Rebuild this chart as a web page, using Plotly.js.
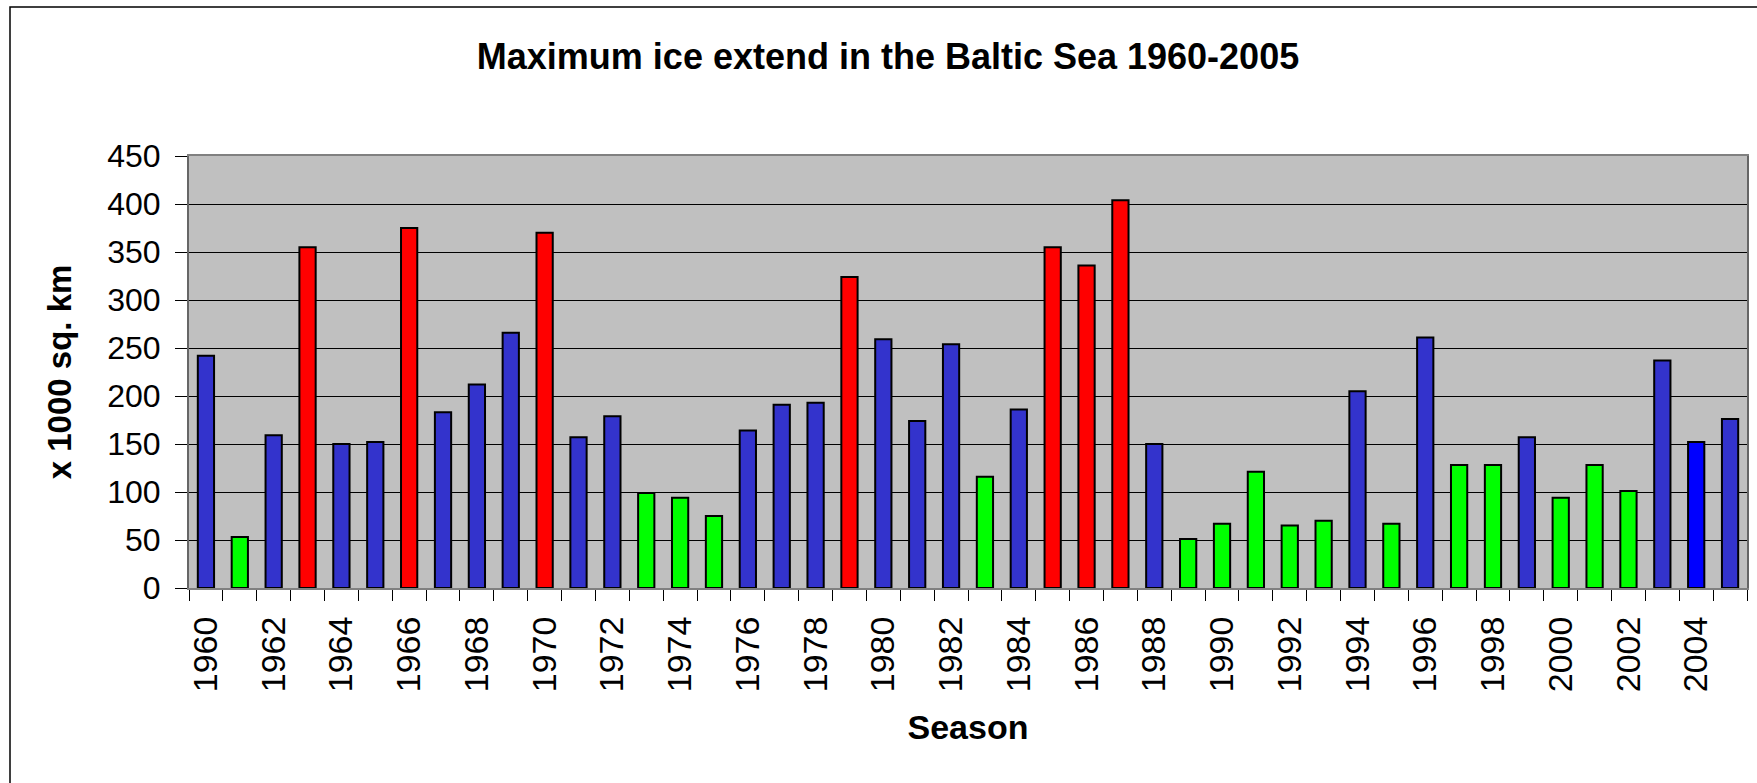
<!DOCTYPE html>
<html>
<head>
<meta charset="utf-8">
<script src="https://cdn.plot.ly/plotly-3.0.1.min.js"></script>
<style>html,body{margin:0;padding:0;background:#fff;}#chart{width:1757px;height:783px;}</style>
</head>
<body>
<div id="chart"></div>
<script>
// Season (year) of each bar
const seasons = [1960,1961,1962,1963,1964,1965,1966,1967,1968,1969,
                 1970,1971,1972,1973,1974,1975,1976,1977,1978,1979,
                 1980,1981,1982,1983,1984,1985,1986,1987,1988,1989,
                 1990,1991,1992,1993,1994,1995,1996,1997,1998,1999,
                 2000,2001,2002,2003,2004,2005];
// Maximum ice extent, x 1000 sq. km
const iceExtent = [242,53,159,355,150,152,375,183,212,266,
                   370,157,179,99,94,75,164,191,193,324,
                   259,174,254,116,186,355,336,404,150,51,
                   67,121,65,70,205,67,261,128,128,157,
                   94,128,101,237,152,176];
// Winter class: M = mild, A = average, S = severe, L = latest (highlighted)
const winterClass = ["A","M","A","S","A","A","S","A","A","A",
                     "S","A","A","M","M","M","A","A","A","S",
                     "A","A","A","M","A","S","S","S","A","M",
                     "M","M","M","M","A","M","A","M","M","A",
                     "M","M","M","A","L","A"];
// Labelled ticks
const tickYears = [1960,1962,1964,1966,1968,1970,1972,1974,1976,1978,1980,1982,
                   1984,1986,1988,1990,1992,1994,1996,1998,2000,2002,2004];
const tickLabels = tickYears.map(String);

const classColor = {M:"#00FF00", A:"#3333CC", S:"#FF0000", L:"#0000FF"};
const FONT = "Liberation Sans, Arial, sans-serif";

const trace = {
  type: "bar",
  x: seasons,
  y: iceExtent,
  width: 0.48,
  marker: {
    color: winterClass.map(c => classColor[c]),
    line: {color: "#000000", width: 2}
  },
  hoverinfo: "x+y"
};

const L = 189, R = 1747, T = 156, B = 588, W = 1757, H = 783;
const pw = R - L, ph = B - T;

const layout = {
  width: W, height: H,
  margin: {l: L, r: W - R, t: T, b: H - B, pad: 0},
  paper_bgcolor: "#FFFFFF",
  plot_bgcolor: "#C0C0C0",
  showlegend: false,
  font: {family: FONT, color: "#000"},
  title: {
    text: "<b>Maximum ice extend in the Baltic Sea 1960-2005</b>",
    font: {family: FONT, size: 36, color: "#000"},
    x: 888 / W, xanchor: "center", xref: "container",
    y: 1 - 56 / H, yanchor: "middle", yref: "container"
  },
  xaxis: {
    type: "linear",
    range: [1959.5, 2005.5],
    tickvals: tickYears,
    ticktext: tickLabels,
    tickangle: -90,
    ticks: "",
    ticklen: 0,
    ticklabelstandoff: 13,
    tickfont: {family: FONT, size: 34, color: "#000"},
    showgrid: false,
    zeroline: false,
    showline: true,
    linecolor: "#808080",
    linewidth: 2,
    mirror: true,
    minor: {tick0: 1959.5, dtick: 1, ticks: "outside", ticklen: 11, tickcolor: "#000", tickwidth: 1, showgrid: false},
    title: {text: "<b>Season</b>", font: {family: FONT, size: 34, color: "#000"}, standoff: 24},
    fixedrange: true
  },
  yaxis: {
    range: [0, 450],
    dtick: 50,
    tick0: 0,
    ticks: "outside",
    ticklen: 12,
    tickcolor: "#000",
    tickwidth: 1,
    ticklabelstandoff: 8,
    tickfont: {family: FONT, size: 32, color: "#000"},
    showgrid: true,
    gridcolor: "#000000",
    gridwidth: 1,
    zeroline: false,
    showline: true,
    linecolor: "#666666",
    linewidth: 2,
    mirror: true,
    title: {text: "<b>x 1000 sq. km</b>", font: {family: FONT, size: 33, color: "#000"}, standoff: 26},
    fixedrange: true
  },
  shapes: [{
    type: "rect", xref: "paper", yref: "paper", layer: "below",
    x0: (10 - L) / pw, x1: (W + 20 - L) / pw,
    y0: (B - (H + 20)) / ph, y1: (B - 7) / ph,
    line: {color: "#000000", width: 1.5},
    fillcolor: "rgba(0,0,0,0)"
  }]
};

Plotly.newPlot("chart", [trace], layout, {displayModeBar: false, staticPlot: true});
</script>
</body>
</html>
